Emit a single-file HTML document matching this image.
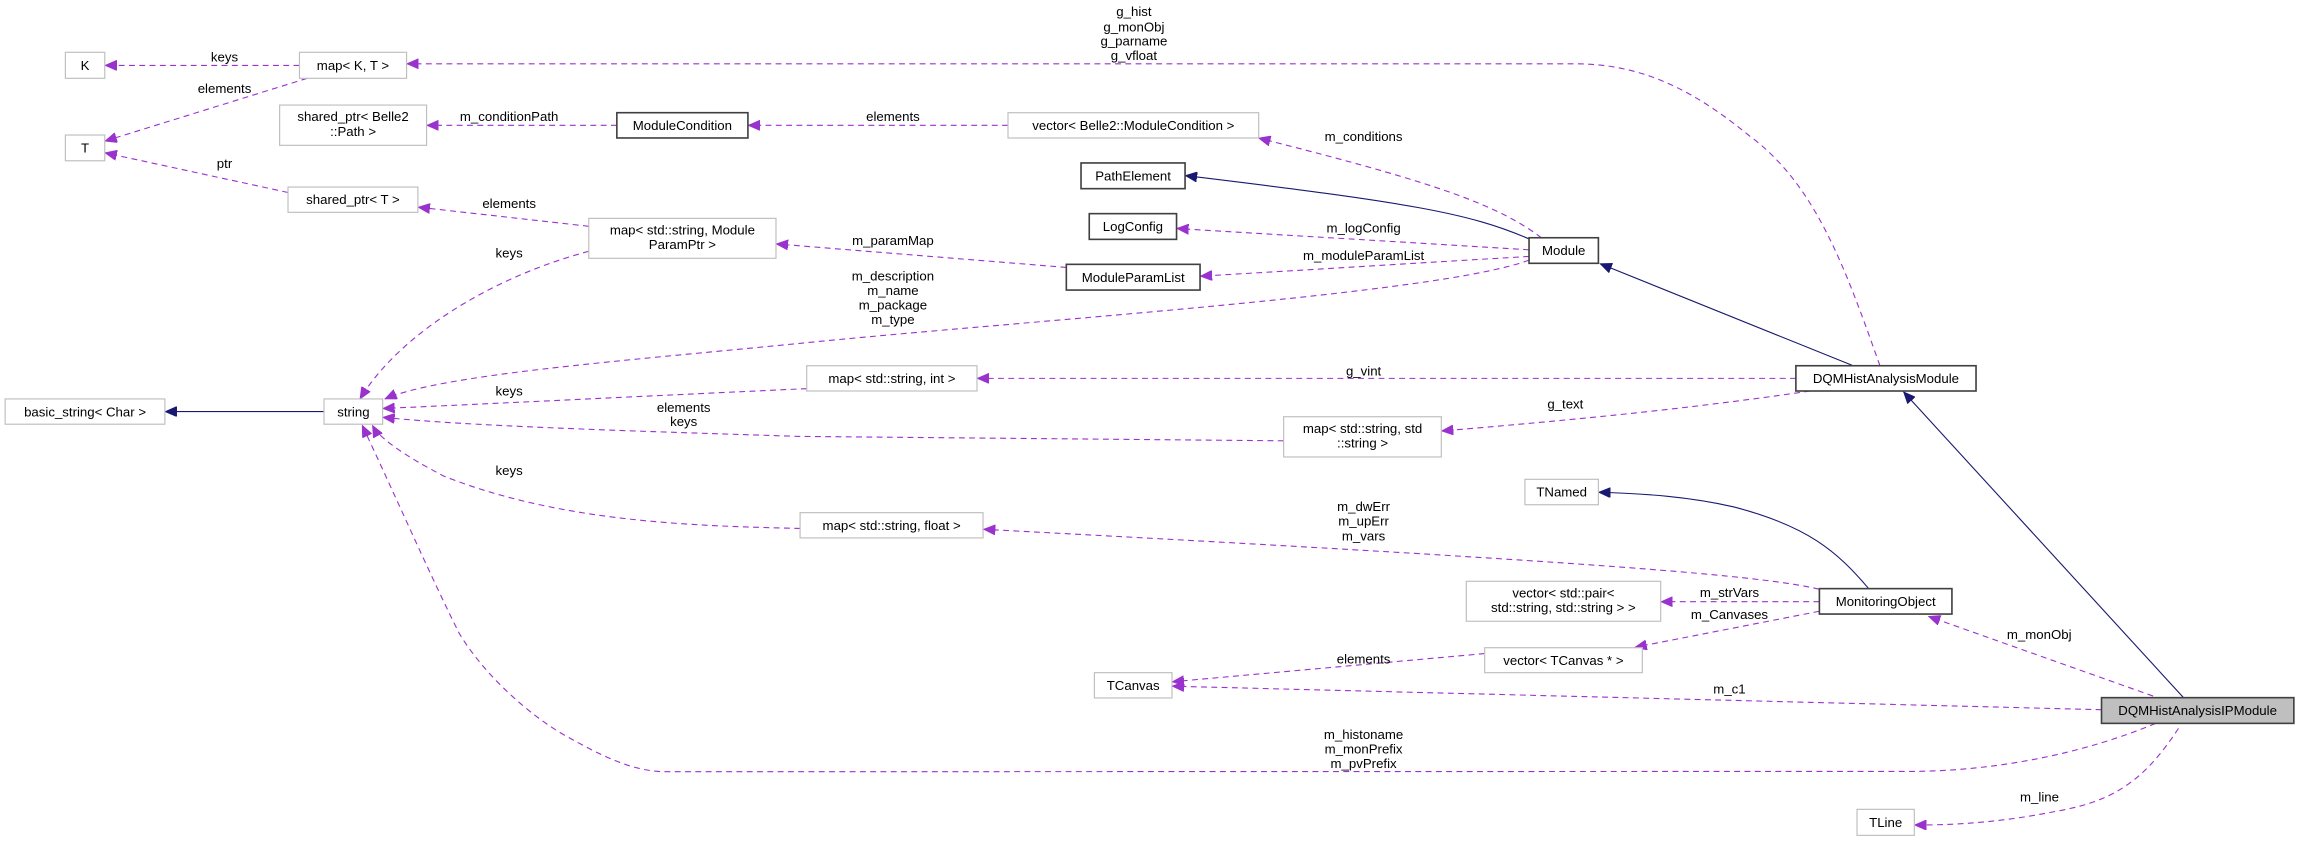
<!DOCTYPE html>
<html><head><meta charset="utf-8"><style>
html,body{margin:0;padding:0;background:#fff;}
svg{display:block;}
text{font-family:"Liberation Sans",sans-serif;font-size:9px;fill:#000;text-anchor:middle;}
.g{fill:#fff;stroke:#bfbfbf;stroke-width:0.8;}
.b{fill:#fff;stroke:#404040;stroke-width:1.1;}
.d{fill:none;stroke:#9a32cd;stroke-width:0.75;stroke-dasharray:4,3;}
.n{fill:none;stroke:#191970;stroke-width:0.75;}
</style></head><body>
<svg width="2304" height="841" viewBox="0 0 1568 572.35" xmlns="http://www.w3.org/2000/svg">
<defs>
<marker id="p" markerUnits="userSpaceOnUse" markerWidth="9" markerHeight="7" refX="8" refY="3.5" orient="auto"><path d="M0,0 L8,3.5 L0,7 z" fill="#9a32cd" stroke="#9a32cd" stroke-width="0.5"/></marker>
<marker id="v" markerUnits="userSpaceOnUse" markerWidth="9" markerHeight="7" refX="8" refY="3.5" orient="auto"><path d="M0,0 L8,3.5 L0,7 z" fill="#191970" stroke="#191970" stroke-width="0.5"/></marker>
</defs>

<path class="d" marker-end="url(#p)" d="M203.8,44.5 L71.5,44.5"/>
<path class="d" marker-end="url(#p)" d="M209,53.3 L71.5,96"/>
<path class="d" marker-end="url(#p)" d="M196,131 L71.5,104"/>
<path class="d" marker-end="url(#p)" d="M419.8,85.3 L290.5,85.3"/>
<path class="d" marker-end="url(#p)" d="M686,85.3 L509.2,85.3"/>
<path class="d" marker-end="url(#p)" d="M400.7,154 L284.6,141"/>
<path class="d" marker-end="url(#p)" d="M400.7,171 C330,190 270,230 245,271.5"/>
<path class="d" marker-end="url(#p)" d="M725.7,182 L528.3,166"/>
<path class="d" marker-end="url(#p)" d="M1049,161.8 C1020,140 980,125 856.6,94"/>
<path class="n" marker-end="url(#v)" d="M1040.6,162.6 C1000,145 960,138 806.7,119.5"/>
<path class="d" marker-end="url(#p)" d="M1040.6,170 L800.9,155.5"/>
<path class="d" marker-end="url(#p)" d="M1040.6,174.5 L816.9,188"/>
<path class="d" marker-end="url(#p)" d="M1040.6,177 C980,200 700,218 544,233.7 C420,246 300,255 262,271.5"/>
<path class="n" marker-end="url(#v)" d="M1260.4,248.6 L1089,179.5"/>
<path class="d" marker-end="url(#p)" d="M1279.4,248.9 C1255,180 1235,125 1190,92 C1145,55 1110,43.4 1071,43.4 L276.9,43.4"/>
<path class="d" marker-end="url(#p)" d="M1222.2,257.5 L665.1,257.5"/>
<path class="d" marker-end="url(#p)" d="M1232,266.1 C1150,278 1080,285 981.1,293.3"/>
<path class="d" marker-end="url(#p)" d="M549,264.5 C450,269 330,275 260.6,278"/>
<path class="d" marker-end="url(#p)" d="M873.6,300 L544,297 C420,293 320,290 260.6,284"/>
<path class="d" marker-end="url(#p)" d="M544.5,359.6 C470,358 380,355 302,324 C275,310 258,298 253.5,289.5"/>
<path class="n" marker-end="url(#v)" d="M1271.5,400.3 C1250,375 1230,358 1180,345 C1150,338 1120,336 1088,335"/>
<path class="d" marker-end="url(#p)" d="M1238,401 C1200,392 1100,383 669.4,360.2"/>
<path class="d" marker-end="url(#p)" d="M1238.2,409.5 L1130.4,409.5"/>
<path class="d" marker-end="url(#p)" d="M1238.2,416 L1112.7,440.5"/>
<path class="d" marker-end="url(#p)" d="M1010.4,444.8 L797.8,464"/>
<path class="d" marker-end="url(#p)" d="M1430.2,483 L797.8,467"/>
<path class="d" marker-end="url(#p)" d="M1465.3,473.7 L1312.5,419.5"/>
<path class="n" marker-end="url(#v)" d="M1486,474.8 L1295.5,266.7"/>
<path class="d" marker-end="url(#p)" d="M1467,492.3 C1420,512 1360,525 1298.5,525 L451.3,525.2 C430,524.5 410,515 381.9,499 C360,486 330,460 312.5,431 C292,390 268,335 246.5,289.5"/>
<path class="d" marker-end="url(#p)" d="M1482.6,495.7 C1460,530 1440,545 1400,552 C1370,558 1340,561.5 1303,561.5"/>
<path class="n" marker-end="url(#v)" d="M220.5,280.1 L112.4,280.1"/>

<rect class="g" x="44.5" y="35.6" width="26.8" height="17.7"/><text x="57.9" y="47.6">K</text>
<rect class="g" x="203.8" y="35.6" width="72.9" height="17.7"/><text x="240.2" y="47.6">map&lt; K, T &gt;</text>
<rect class="g" x="44.5" y="91.9" width="26.8" height="17.5"/><text x="57.9" y="103.8">T</text>
<rect class="g" x="190.3" y="71.5" width="100" height="27.4"/><text x="240.3" y="82.5">shared_ptr&lt; Belle2</text><text x="240.3" y="92.5">::Path &gt;</text>
<rect class="b" x="419.8" y="76.7" width="89.2" height="17.2"/><text x="464.4" y="88.5">ModuleCondition</text>
<rect class="g" x="196" y="127.3" width="88.4" height="17.2"/><text x="240.2" y="139">shared_ptr&lt; T &gt;</text>
<rect class="g" x="400.7" y="148.6" width="127.4" height="27.2"/><text x="464.4" y="159.5">map&lt; std::string, Module</text><text x="464.4" y="169.5">ParamPtr &gt;</text>
<rect class="g" x="3.5" y="271.5" width="108.7" height="17.2"/><text x="57.9" y="283.3">basic_string&lt; Char &gt;</text>
<rect class="g" x="220.5" y="271.5" width="39.9" height="17.2"/><text x="240.5" y="283.3">string</text>
<rect class="g" x="686" y="76.7" width="170.6" height="17.2"/><text x="771.3" y="88.5">vector&lt; Belle2::ModuleCondition &gt;</text>
<rect class="b" x="735.7" y="110.9" width="70.8" height="17.5"/><text x="771.1" y="122.8">PathElement</text>
<rect class="b" x="741.3" y="145.4" width="59.4" height="17.5"/><text x="771" y="157.3">LogConfig</text>
<rect class="b" x="725.7" y="179.9" width="91" height="17.5"/><text x="771.2" y="191.8">ModuleParamList</text>
<rect class="b" x="1040.6" y="161.8" width="47.2" height="17.4"/><text x="1064.2" y="173.6">Module</text>
<rect class="g" x="549" y="248.9" width="115.9" height="17.2"/><text x="607" y="260.7">map&lt; std::string, int &gt;</text>
<rect class="b" x="1222.2" y="248.9" width="122.6" height="17.2"/><text x="1283.5" y="260.7">DQMHistAnalysisModule</text>
<rect class="g" x="873.6" y="283.6" width="107.3" height="27.4"/><text x="927.3" y="294.6">map&lt; std::string, std</text><text x="927.3" y="304.6">::string &gt;</text>
<rect class="g" x="1037.8" y="326.2" width="50" height="17.3"/><text x="1062.8" y="338">TNamed</text>
<rect class="g" x="544.5" y="348.9" width="124.5" height="17.2"/><text x="606.8" y="360.7">map&lt; std::string, float &gt;</text>
<rect class="g" x="997.9" y="395.6" width="132.3" height="27.2"/><text x="1064" y="406.5">vector&lt; std::pair&lt;</text><text x="1064" y="416.5">std::string, std::string &gt; &gt;</text>
<rect class="b" x="1238.2" y="400.6" width="90.2" height="17.3"/><text x="1283.3" y="412.4">MonitoringObject</text>
<rect class="g" x="1010.4" y="440.8" width="107.3" height="17"/><text x="1064" y="452.5">vector&lt; TCanvas * &gt;</text>
<rect class="g" x="744.8" y="457.8" width="52.8" height="17.2"/><text x="771.2" y="469.6">TCanvas</text>
<rect x="1430.2" y="474.8" width="130.9" height="17.5" fill="#bfbfbf" stroke="#404040" stroke-width="1.1"/><text x="1495.6" y="486.7">DQMHistAnalysisIPModule</text>
<rect class="g" x="1263.8" y="550.8" width="39" height="17.7"/><text x="1283.3" y="562.8">TLine</text>

<text x="152.8" y="41.7">keys</text>
<text x="152.8" y="63.4">elements</text>
<text x="346.5" y="82.5">m_conditionPath</text>
<text x="152.8" y="114.3">ptr</text>
<text x="607.7" y="82.5">elements</text>
<text x="346.5" y="141.5">elements</text>
<text x="346.5" y="175.1">keys</text>
<text x="771.7" y="11">g_hist</text>
<text x="771.7" y="21.3">g_monObj</text>
<text x="771.7" y="31">g_parname</text>
<text x="771.7" y="41">g_vfloat</text>
<text x="928" y="96.1">m_conditions</text>
<text x="928" y="158.1">m_logConfig</text>
<text x="928" y="177.1">m_moduleParamList</text>
<text x="607.7" y="166.9">m_paramMap</text>
<text x="607.7" y="190.9">m_description</text>
<text x="607.7" y="200.9">m_name</text>
<text x="607.7" y="210.5">m_package</text>
<text x="607.7" y="220.4">m_type</text>
<text x="928" y="255.4">g_vint</text>
<text x="1065.3" y="278.1">g_text</text>
<text x="346.5" y="269">keys</text>
<text x="465.3" y="280.3">elements</text>
<text x="465.3" y="290">keys</text>
<text x="346.5" y="323.4">keys</text>
<text x="928" y="347.9">m_dwErr</text>
<text x="928" y="357.7">m_upErr</text>
<text x="928" y="367.7">m_vars</text>
<text x="1177" y="406.4">m_strVars</text>
<text x="1177" y="421.4">m_Canvases</text>
<text x="1387.8" y="435">m_monObj</text>
<text x="928" y="451.4">elements</text>
<text x="1177" y="471.8">m_c1</text>
<text x="928" y="503.1">m_histoname</text>
<text x="928" y="512.8">m_monPrefix</text>
<text x="928" y="522.6">m_pvPrefix</text>
<text x="1388" y="545.3">m_line</text>
</svg>
</body></html>
